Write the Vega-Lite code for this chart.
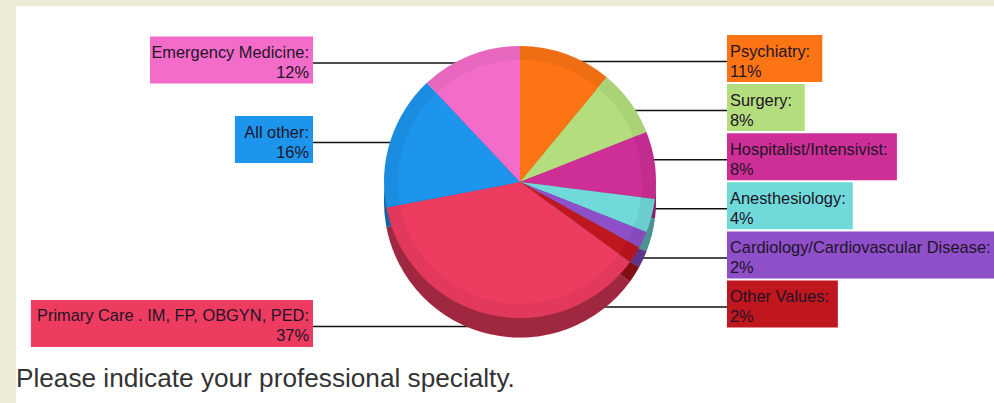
{
  "$schema": "https://vega.github.io/schema/vega-lite/v6.json",
  "width": 978,
  "height": 397,
  "autosize": {"type": "none"},
  "padding": {"left": 16, "top": 6, "right": 0, "bottom": 0},
  "background": "#edecd8",
  "title": {"text": "Please indicate your professional specialty.", "orient": "bottom", "anchor": "start", "frame": "group", "offset": -16, "baseline": "alphabetic", "font": "Liberation Sans", "fontSize": 26.2, "fontWeight": "normal", "color": "#333333"},
  "config": {"view": {"stroke": null, "fill": "white"}},
  "data": {"values": [
    {"specialty": "Psychiatry", "label": "Psychiatry:", "share": 0.11, "order": 1},
    {"specialty": "Surgery", "label": "Surgery:", "share": 0.08, "order": 2},
    {"specialty": "Hospitalist/Intensivist", "label": "Hospitalist/Intensivist:", "share": 0.08, "order": 3},
    {"specialty": "Anesthesiology", "label": "Anesthesiology:", "share": 0.04, "order": 4},
    {"specialty": "Cardiology/Cardiovascular Disease", "label": "Cardiology/Cardiovascular Disease:", "share": 0.02, "order": 5},
    {"specialty": "Other Values", "label": "Other Values:", "share": 0.02, "order": 6},
    {"specialty": "Primary Care . IM, FP, OBGYN, PED", "label": "Primary Care . IM, FP, OBGYN, PED:", "share": 0.37, "order": 7},
    {"specialty": "All other", "label": "All other:", "share": 0.16, "order": 8},
    {"specialty": "Emergency Medicine", "label": "Emergency Medicine:", "share": 0.12, "order": 9}
  ]},
  "resolve": {"scale": {"y": "independent"}},
  "layer": [
    {
      "transform": [{"stack": "share", "groupby": [], "sort": [{"field": "order", "order": "ascending"}], "as": ["cumStart", "cumEnd"]}, {"filter": "datum.order >= 7"}],
      "mark": {"type": "rule", "color": "#111111", "strokeWidth": 1.5, "yOffset": 3},
      "encoding": {
        "x": {"datum": "left", "scale": {"type": "point", "domain": ["left", "pie", "right"], "range": [297, 711], "padding": 0}, "axis": null},
        "x2": {"datum": "pie"},
        "y": {"field": "cumStart", "type": "quantitative", "scale": {"domain": [0, 1], "range": [491.5, -5.7], "nice": false, "zero": false}, "axis": null}
      }
    },
    {
      "transform": [{"filter": "datum.order <= 6"}],
      "mark": {"type": "rule", "color": "#111111", "strokeWidth": 1.5, "yOffset": 3},
      "encoding": {
        "x": {"datum": "right", "scale": {"type": "point", "domain": ["left", "pie", "right"], "range": [297, 711], "padding": 0}, "axis": null},
        "x2": {"datum": "pie"},
        "y": {"field": "specialty", "type": "nominal", "scale": {"type": "point", "domain": ["Psychiatry", "Surgery", "Hospitalist/Intensivist", "Anesthesiology", "Cardiology/Cardiovascular Disease", "Other Values"], "range": [52.5, 298], "padding": 0}, "axis": null}
      }
    },
    {
      "mark": {"type": "arc", "radius": 136, "yOffset": -3},
      "encoding": {
        "x": {"datum": "pie", "scale": {"type": "point", "domain": ["left", "pie", "right"], "range": [297, 711], "padding": 0}, "axis": null},
        "theta": {"field": "share", "type": "quantitative"},
        "order": {"field": "order", "type": "quantitative"},
        "color": {"field": "specialty", "type": "nominal", "legend": null, "scale": {"domain": ["Psychiatry", "Surgery", "Hospitalist/Intensivist", "Anesthesiology", "Cardiology/Cardiovascular Disease", "Other Values", "Primary Care . IM, FP, OBGYN, PED", "All other", "Emergency Medicine"], "range": ["#fd7415", "#b4de7d", "#cd2f97", "#70dada", "#8f4fc8", "#c0161e", "#ee3c60", "#1d95ed", "#f46cc9"]}}
      }
    },
    {
      "mark": {"type": "arc", "radius": 136, "yOffset": -3, "color": "#000000", "opacity": 0.33},
      "encoding": {
        "x": {"datum": "pie", "scale": {"type": "point", "domain": ["left", "pie", "right"], "range": [297, 711], "padding": 0}, "axis": null},
        "theta": {"field": "share", "type": "quantitative"},
        "order": {"field": "order", "type": "quantitative"}
      }
    },
    {
      "mark": {"type": "arc", "radius": 136, "yOffset": -22.5},
      "encoding": {
        "x": {"datum": "pie", "scale": {"type": "point", "domain": ["left", "pie", "right"], "range": [297, 711], "padding": 0}, "axis": null},
        "theta": {"field": "share", "type": "quantitative"},
        "order": {"field": "order", "type": "quantitative"},
        "color": {"field": "specialty", "type": "nominal", "legend": null}
      }
    },
    {
      "mark": {"type": "arc", "radius": 136, "innerRadius": 122, "yOffset": -22.5, "color": "#000000", "opacity": 0.05},
      "encoding": {
        "x": {"datum": "pie", "scale": {"type": "point", "domain": ["left", "pie", "right"], "range": [297, 711], "padding": 0}, "axis": null},
        "theta": {"field": "share", "type": "quantitative"},
        "order": {"field": "order", "type": "quantitative"}
      }
    },
    {
      "transform": [{"stack": "share", "groupby": [], "sort": [{"field": "order", "order": "ascending"}], "as": ["cumStart", "cumEnd"]}, {"filter": "datum.order >= 7"}],
      "mark": {"type": "rect", "xOffset": {"expr": "-(10 + 16.4 * (0.53 * length(datum.label) - 0.26 * (length(datum.label) - length(replace(datum.label, regexp('[ilIjtf/:., ]', 'g'), ''))) + 0.15 * (length(datum.label) - length(replace(datum.label, regexp('[A-HJ-Z]', 'g'), '')))))"}, "yOffset": -23.5, "y2Offset": 23.5},
      "encoding": {
        "x": {"datum": "left", "scale": {"type": "point", "domain": ["left", "pie", "right"], "range": [297, 711], "padding": 0}, "axis": null},
        "x2": {"datum": "left"},
        "y": {"field": "cumStart", "type": "quantitative", "scale": {"domain": [0, 1], "range": [491.5, -5.7], "nice": false, "zero": false}, "axis": null},
        "y2": {"field": "cumStart"},
        "color": {"field": "specialty", "type": "nominal", "legend": null}
      }
    },
    {
      "transform": [{"stack": "share", "groupby": [], "sort": [{"field": "order", "order": "ascending"}], "as": ["cumStart", "cumEnd"]}, {"filter": "datum.order >= 7"}],
      "mark": {"type": "text", "align": "right", "baseline": "alphabetic", "dx": -4, "dy": -2, "font": "Liberation Sans", "fontSize": 16.4, "color": "#1e1428"},
      "encoding": {
        "x": {"datum": "left", "scale": {"type": "point", "domain": ["left", "pie", "right"], "range": [297, 711], "padding": 0}, "axis": null},
        "y": {"field": "cumStart", "type": "quantitative", "scale": {"domain": [0, 1], "range": [491.5, -5.7], "nice": false, "zero": false}, "axis": null},
        "text": {"field": "label"}
      }
    },
    {
      "transform": [{"stack": "share", "groupby": [], "sort": [{"field": "order", "order": "ascending"}], "as": ["cumStart", "cumEnd"]}, {"filter": "datum.order >= 7"}],
      "mark": {"type": "text", "align": "right", "baseline": "alphabetic", "dx": -4, "dy": 18, "font": "Liberation Sans", "fontSize": 16.4, "color": "#1e1428"},
      "encoding": {
        "x": {"datum": "left", "scale": {"type": "point", "domain": ["left", "pie", "right"], "range": [297, 711], "padding": 0}, "axis": null},
        "y": {"field": "cumStart", "type": "quantitative", "scale": {"domain": [0, 1], "range": [491.5, -5.7], "nice": false, "zero": false}, "axis": null},
        "text": {"field": "share", "type": "quantitative", "format": ".0%"}
      }
    },
    {
      "transform": [{"filter": "datum.order <= 6"}],
      "mark": {"type": "rect", "x2Offset": {"expr": "10 + 16.4 * (0.53 * length(datum.label) - 0.26 * (length(datum.label) - length(replace(datum.label, regexp('[ilIjtf/:., ]', 'g'), ''))) + 0.15 * (length(datum.label) - length(replace(datum.label, regexp('[A-HJ-Z]', 'g'), ''))))"}, "yOffset": -23.5, "y2Offset": 23.5},
      "encoding": {
        "x": {"datum": "right", "scale": {"type": "point", "domain": ["left", "pie", "right"], "range": [297, 711], "padding": 0}, "axis": null},
        "x2": {"datum": "right"},
        "y": {"field": "specialty", "type": "nominal", "scale": {"type": "point", "domain": ["Psychiatry", "Surgery", "Hospitalist/Intensivist", "Anesthesiology", "Cardiology/Cardiovascular Disease", "Other Values"], "range": [52.5, 298], "padding": 0}, "axis": null},
        "y2": {"field": "specialty"},
        "color": {"field": "specialty", "type": "nominal", "legend": null}
      }
    },
    {
      "transform": [{"filter": "datum.order <= 6"}],
      "mark": {"type": "text", "align": "left", "baseline": "alphabetic", "dx": 3, "dy": -2, "font": "Liberation Sans", "fontSize": 16.4, "color": "#1e1428"},
      "encoding": {
        "x": {"datum": "right", "scale": {"type": "point", "domain": ["left", "pie", "right"], "range": [297, 711], "padding": 0}, "axis": null},
        "y": {"field": "specialty", "type": "nominal", "scale": {"type": "point", "domain": ["Psychiatry", "Surgery", "Hospitalist/Intensivist", "Anesthesiology", "Cardiology/Cardiovascular Disease", "Other Values"], "range": [52.5, 298], "padding": 0}, "axis": null},
        "text": {"field": "label"}
      }
    },
    {
      "transform": [{"filter": "datum.order <= 6"}],
      "mark": {"type": "text", "align": "left", "baseline": "alphabetic", "dx": 3, "dy": 18, "font": "Liberation Sans", "fontSize": 16.4, "color": "#1e1428"},
      "encoding": {
        "x": {"datum": "right", "scale": {"type": "point", "domain": ["left", "pie", "right"], "range": [297, 711], "padding": 0}, "axis": null},
        "y": {"field": "specialty", "type": "nominal", "scale": {"type": "point", "domain": ["Psychiatry", "Surgery", "Hospitalist/Intensivist", "Anesthesiology", "Cardiology/Cardiovascular Disease", "Other Values"], "range": [52.5, 298], "padding": 0}, "axis": null},
        "text": {"field": "share", "type": "quantitative", "format": ".0%"}
      }
    }
  ]
}
